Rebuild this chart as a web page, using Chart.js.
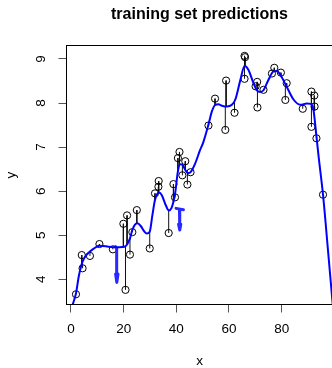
<!DOCTYPE html>
<html>
<head>
<meta charset="utf-8">
<script src="https://cdn.jsdelivr.net/npm/chart.js@4/dist/chart.umd.min.js"></script>
<style>
  html, body { margin: 0; padding: 0; background: #fff; overflow: hidden; }
  #wrap { width: 340px; height: 368px; }
</style>
</head>
<body>
<div id="wrap"><canvas id="c" width="340" height="368" style="width:340px;height:368px"></canvas></div>
<script>
// observed training data
const obsX = [1.9, 4.1, 4.4, 7.2, 10.8, 15.9, 19.9, 20.7, 21.3, 22.4, 23.3, 25.0, 29.9, 31.9, 33.2, 33.3,
  37.1, 38.9, 39.5, 40.6, 41.2, 42.3, 43.4, 44.2, 45.4, 52.2, 54.7, 58.6, 58.9, 62.1, 65.9, 66.1, 65.9,
  70.1, 70.7, 70.8, 73.1, 76.3, 77.2, 79.7, 81.4, 81.9, 88.0, 91.3, 91.3, 92.4, 92.5, 93.2, 95.7];
const obsY = [3.66, 4.55, 4.25, 4.53, 4.80, 4.68, 5.26, 3.76, 5.45, 4.56, 5.07, 5.57, 4.70, 5.95, 6.10, 6.23,
  5.05, 6.16, 5.86, 6.75, 6.89, 6.36, 6.68, 6.15, 6.43, 7.49, 8.10, 7.39, 8.51, 7.78, 9.07, 9.04, 8.55,
  8.38, 8.48, 7.90, 8.30, 8.67, 8.80, 8.69, 8.07, 8.45, 7.87, 8.26, 7.46, 8.17, 7.92, 7.20, 5.92];
// model prediction at each training x
const fitY = [3.68, 4.33, 4.40, 4.63, 4.76, 4.73, 4.73, 4.74, 4.79, 4.93, 5.12, 5.27, 5.08, 5.80, 5.96, 5.96,
  5.56, 5.76, 5.93, 6.45, 6.58, 6.60, 6.48, 6.42, 6.44, 7.51, 7.95, 7.92, 7.92, 8.08, 8.84, 8.84, 8.84,
  8.36, 8.28, 8.27, 8.29, 8.68, 8.73, 8.62, 8.42, 8.36, 7.96, 7.98, 7.98, 7.84, 7.82, 7.25, 5.92];
// prediction curve
const curveX = [0.5, 1.9, 3.0, 4.0, 4.4, 5.7, 7.2, 8.5, 10.8, 13.3, 15.9, 18.4, 20.3, 21.3, 22.4, 23.3, 24.3,
  25.2, 26.5, 27.8, 28.8, 29.9, 30.9, 31.9, 33.4, 34.5, 36.0, 37.2, 38.2, 38.9, 39.5, 40.6, 41.5, 42.3,
  43.4, 44.5, 45.5, 47.1, 49.0, 50.3, 52.2, 53.5, 54.8, 56.0, 57.3, 59.2, 61.1, 62.4, 64.3, 65.9, 67.4,
  69.3, 70.7, 71.9, 73.1, 75.0, 76.9, 78.2, 79.7, 82.0, 84.5, 87.1, 89.6, 91.0, 92.0, 93.2, 94.0, 95.7,
  97.5, 99.5];
const curveY = [3.40, 3.68, 4.08, 4.33, 4.40, 4.54, 4.63, 4.69, 4.76, 4.75, 4.73, 4.73, 4.74, 4.79, 4.93,
  5.12, 5.24, 5.27, 5.21, 5.09, 5.04, 5.08, 5.45, 5.80, 5.97, 5.91, 5.68, 5.56, 5.62, 5.76, 5.93, 6.45,
  6.61, 6.60, 6.48, 6.41, 6.44, 6.62, 6.93, 7.12, 7.51, 7.81, 7.96, 7.97, 7.94, 7.92, 7.96, 8.08, 8.52,
  8.84, 8.75, 8.45, 8.28, 8.25, 8.29, 8.53, 8.72, 8.73, 8.62, 8.36, 8.08, 7.96, 7.99, 7.98, 7.87, 7.25,
  6.80, 5.92, 4.72, 3.35];
// hand-drawn arrow strokes (x, y pairs; null separates strokes)
const arrowX = [16.9, 17.35, 17.35, null, 16.95, 17.4, 17.85, null, 39.9, 42.7, null, 41.2, 41.3, null, 40.85, 41.3, 41.7];
const arrowY = [4.74, 4.71, 3.96, null, 4.12, 3.93, 4.12, null, 5.61, 5.58, null, 5.59, 5.13, null, 5.25, 5.12, 5.25];
// axis ticks
const xTicks = [0, 20, 40, 60, 80];
const yTicks = [4, 5, 6, 7, 8, 9];

const pts = obsX.map((x, i) => ({ x: x, y: obsY[i] }));
const curve = curveX.map((x, i) => ({ x: x, y: curveY[i] }));
const segs = [];
obsX.forEach((x, i) => {
  segs.push({ x: x, y: obsY[i] }, { x: x, y: fitY[i] }, { x: x, y: null });
});
const arrows = arrowX.map((x, i) => ({ x: x === null ? 0 : x, y: arrowY[i] }));

const FONT = "'Liberation Sans', Arial, Helvetica, sans-serif";

// full frame around the plotting region
const boxPlugin = {
  id: 'plotBox',
  afterDraw(chart) {
    const a = chart.chartArea, ctx = chart.ctx;
    ctx.save();
    ctx.strokeStyle = '#000';
    ctx.lineWidth = 1;
    ctx.strokeRect(a.left, a.top, a.right - a.left, a.bottom - a.top);
    ctx.restore();
  }
};

new Chart(document.getElementById('c'), {
  type: 'line',
  data: {
    datasets: [
      { data: curve, borderColor: '#0000ff', borderWidth: 2, pointRadius: 0, fill: false,
        cubicInterpolationMode: 'monotone' },
      { data: arrows, borderColor: 'rgb(40,40,255)', borderWidth: 3, pointRadius: 0, fill: false,
        spanGaps: false, borderCapStyle: 'round', borderJoinStyle: 'round' },
      { data: pts, showLine: false, pointRadius: 3.6, pointBorderWidth: 1, pointBorderColor: '#000',
        pointBackgroundColor: 'rgba(0,0,0,0)', borderColor: '#000' },
      { data: segs, borderColor: '#111', borderWidth: 1, pointRadius: 0, fill: false, spanGaps: false }
    ]
  },
  options: {
    responsive: false,
    animation: false,
    devicePixelRatio: 1,
    layout: { padding: { left: 0, right: 7.5, top: 0, bottom: 0 } },
    plugins: {
      legend: { display: false },
      tooltip: { enabled: false },
      title: {
        display: true, fullSize: false,
        text: 'training set predictions',
        color: '#000',
        font: { family: FONT, size: 16, weight: 'bold' },
        padding: { top: 5, bottom: 21.3 }
      }
    },
    scales: {
      x: {
        type: 'linear', position: 'bottom', min: -1.7, max: 99.3,
        afterBuildTicks: s => { s.ticks = xTicks.map(v => ({ value: v })); },
        afterFit: s => { s.height = 63.5; },
        grid: { drawOnChartArea: false, drawTicks: true, tickLength: 8, color: '#555' },
        border: { display: true, color: '#000' },
        ticks: { color: '#000', font: { family: FONT, size: 13.5 }, padding: 9, maxRotation: 0,
          autoSkip: false },
        title: { display: true, text: 'x', color: '#000', font: { family: FONT, size: 13.5, lineHeight: 1.05 },
          padding: { top: 0, bottom: 0 } }
      },
      y: {
        type: 'linear', position: 'left', min: 3.428, max: 9.306,
        afterBuildTicks: s => { s.ticks = yTicks.map(v => ({ value: v })); },
        afterFit: s => { s.width = 66.5; },
        grid: { drawOnChartArea: false, drawTicks: true, tickLength: 8, color: '#555' },
        border: { display: true, color: '#000' },
        ticks: { color: '#000', font: { family: FONT, size: 13.5 }, padding: 13.2, minRotation: 90,
          maxRotation: 90, crossAlign: 'center', autoSkip: false },
        title: { display: true, text: 'y', color: '#000', font: { family: FONT, size: 13.5 },
          padding: { top: 3.2, bottom: 0 } }
      }
    }
  },
  plugins: [boxPlugin]
});
</script>
</body>
</html>
